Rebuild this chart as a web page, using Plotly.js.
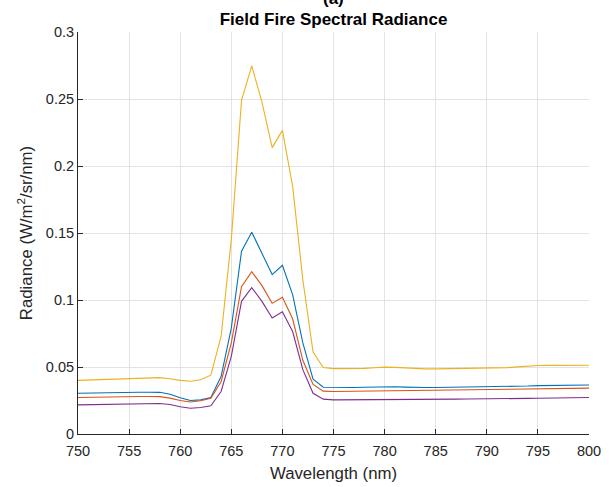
<!DOCTYPE html>
<html>
<head>
<meta charset="utf-8">
<script src="https://cdn.plot.ly/plotly-3.0.1.min.js"></script>
<style>html,body{margin:0;padding:0;background:#fff;}#chart{width:611px;height:487px;}</style>
</head>
<body>
<div id="chart"></div>
<script>
const wavelength = [750,751,752,753,754,755,756,757,758,759,760,761,762,763,764,765,766,767,768,769,770,771,772,773,774,775,776,777,778,779,780,781,782,783,784,785,786,787,788,789,790,791,792,793,794,795,796,797,798,799,800];

const seriesBlue = [0.0304,0.0306,0.0308,0.0309,0.0310,0.0312,0.0312,0.0312,0.0311,0.0297,0.0270,0.0250,0.0255,0.0272,0.0429,0.079,0.1364,0.1506,0.135,0.119,0.1259,0.104,0.068,0.041,0.0349,0.0347,0.0347,0.0347,0.0349,0.0352,0.0354,0.0353,0.0350,0.0347,0.0347,0.0347,0.0348,0.0348,0.0349,0.0349,0.0350,0.0351,0.0352,0.0355,0.0358,0.0361,0.0363,0.0364,0.0365,0.0365,0.0366];

const seriesRed = [0.0272,0.0274,0.0276,0.0277,0.0278,0.0280,0.0280,0.0280,0.0279,0.0268,0.0250,0.0239,0.0248,0.0267,0.039,0.068,0.110,0.1212,0.1107,0.0975,0.102,0.086,0.055,0.037,0.032,0.0317,0.0318,0.0319,0.0321,0.0324,0.0327,0.0327,0.0326,0.0326,0.0326,0.0327,0.0328,0.0329,0.0330,0.0331,0.0332,0.0333,0.0334,0.0335,0.0336,0.0337,0.0338,0.0339,0.0340,0.0341,0.0342];

const seriesOrange = [0.0400,0.0403,0.0406,0.0409,0.0412,0.0414,0.0417,0.0420,0.0421,0.0412,0.0400,0.0394,0.0405,0.0439,0.0728,0.145,0.249,0.2747,0.2476,0.2137,0.2266,0.185,0.115,0.0611,0.0496,0.0488,0.0487,0.0487,0.0490,0.0494,0.0499,0.0497,0.0492,0.0487,0.0486,0.0486,0.0487,0.0488,0.0489,0.0490,0.0490,0.0492,0.0495,0.0501,0.0507,0.0511,0.0512,0.0511,0.0511,0.0512,0.0513];

const seriesPurple = [0.0217,0.0218,0.0220,0.0221,0.0222,0.0224,0.0226,0.0228,0.0228,0.0220,0.0203,0.0192,0.0198,0.0210,0.0317,0.058,0.099,0.1092,0.099,0.0865,0.0912,0.0765,0.048,0.0304,0.026,0.0255,0.0255,0.0256,0.0257,0.0259,0.0260,0.0260,0.0259,0.0259,0.0259,0.0259,0.0260,0.0260,0.0261,0.0261,0.0261,0.0262,0.0263,0.0264,0.0266,0.0267,0.0268,0.0270,0.0271,0.0272,0.0272];

const xTicks = [750,755,760,765,770,775,780,785,790,795,800];
const yTicks = [0,0.05,0.1,0.15,0.2,0.25,0.3];
const yTickText = ['0','0.05','0.1','0.15','0.2','0.25','0.3'];

const FONT = 'Liberation Sans, Arial, Helvetica, sans-serif';
const mk = (y, c) => ({x: wavelength, y: y, type: 'scatter', mode: 'lines', line: {color: c, width: 1.1}, showlegend: false, hoverinfo: 'skip'});

const data = [
  mk(seriesBlue, '#0072BD'),
  mk(seriesRed, '#D95319'),
  mk(seriesOrange, '#EDB120'),
  mk(seriesPurple, '#7E2F8E')
];

const axisCommon = {
  showline: true, linecolor: '#262626', linewidth: 1,
  ticks: 'inside', ticklen: 5, tickcolor: '#262626', tickwidth: 1,
  showgrid: true, gridcolor: '#e3e3e3', gridwidth: 1,
  zeroline: false, mirror: false,
  tickfont: {family: FONT, size: 14.5, color: '#262626'}
};

const layout = {
  width: 611, height: 487,
  margin: {l: 78, r: 22, t: 32, b: 53},
  paper_bgcolor: '#fff', plot_bgcolor: '#fff',
  title: {
    text: 'Field Fire Spectral Radiance',
    font: {family: FONT, size: 17, color: '#000', weight: 'bold'},
    x: 0.5, xanchor: 'center', xref: 'paper',
    y: 0.961, yanchor: 'middle', yref: 'container'
  },
  annotations: [{
    text: '(a)', xref: 'paper', yref: 'paper', x: 0.5, y: 1,
    xanchor: 'center', yanchor: 'bottom', yshift: 22, showarrow: false,
    font: {family: FONT, size: 17, color: '#000', weight: 'bold'}
  }],
  xaxis: Object.assign({}, axisCommon, {
    range: [750, 800], tickvals: xTicks, ticktext: xTicks.map(String),
    ticklabelstandoff: 4,
    title: {text: 'Wavelength (nm)', font: {family: FONT, size: 16.8, color: '#262626'}, standoff: 8}
  }),
  yaxis: Object.assign({}, axisCommon, {
    range: [0, 0.3], tickvals: yTicks, ticktext: yTickText,
    title: {text: 'Radiance (W/m<sup>2</sup>/sr/nm)', font: {family: FONT, size: 16.8, color: '#262626'}, standoff: 8}
  })
};

Plotly.newPlot('chart', data, layout, {staticPlot: true, displayModeBar: false});
</script>
</body>
</html>
